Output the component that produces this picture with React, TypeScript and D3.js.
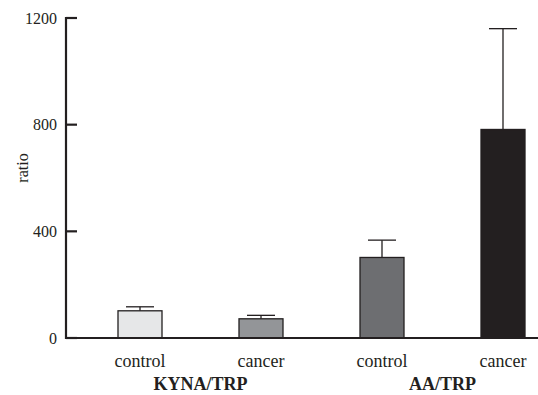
import * as React from "react";
import * as d3 from "d3";

const categories: string[] = ["KYNA control", "KYNA cancer", "AA control", "AA cancer"];
const barLabels: string[] = ["control", "cancer", "control", "cancer"];
const means: number[] = [102, 72, 302, 782];
const errors: number[] = [15, 13, 65, 378];
const barColors: string[] = ["#e6e7e8", "#939598", "#6d6e71", "#231f20"];
const groups: string[] = ["KYNA/TRP", "AA/TRP"];
const yTicks: number[] = [0, 400, 800, 1200];

const W = 538;
const H = 395;
const serif = '"Liberation Serif", "DejaVu Serif", "Times New Roman", serif';

export default function App(): JSX.Element {
  const axisX = 66;
  const y = d3.scaleLinear().domain([0, 1200]).range([338, 18]);
  const x = d3.scalePoint<string>().domain(categories).range([140, 503]);
  const barW = 44;
  const capW = 28;
  const ink = "#231f20";

  return (
    <svg width={W} height={H} style={{ position: "absolute", left: 0, top: 0, background: "#fff" }}>
      {/* bars with error bars */}
      {categories.map((c, i) => {
        const cx = x(c) as number;
        const top = y(means[i] + errors[i]);
        return (
          <g key={c}>
            <line x1={cx} x2={cx} y1={y(means[i])} y2={top} stroke={ink} strokeWidth={1.3} />
            <line x1={cx - capW / 2} x2={cx + capW / 2} y1={top} y2={top} stroke={ink} strokeWidth={1.3} />
            <rect x={cx - barW / 2} y={y(means[i])} width={barW} height={y(0) - y(means[i])}
              fill={barColors[i]} stroke={ink} strokeWidth={1.3} />
            <text x={cx} y={367} textAnchor="middle" style={{ fontFamily: serif, fontSize: "18px" }} fill={ink}>
              {barLabels[i]}
            </text>
          </g>
        );
      })}

      {/* axes */}
      <line x1={axisX} x2={axisX} y1={y(1200) - 1} y2={y(0) + 1} stroke={ink} strokeWidth={2.2} />
      <line x1={axisX - 1} x2={W} y1={y(0)} y2={y(0)} stroke={ink} strokeWidth={2.2} />
      {yTicks.map((t) => (
        <g key={t}>
          <line x1={axisX} x2={axisX + 11} y1={y(t)} y2={y(t)} stroke={ink} strokeWidth={2.2} />
          <text x={57} y={y(t) + 5.5} textAnchor="end" style={{ fontFamily: serif, fontSize: "16px" }} fill={ink}>
            {t}
          </text>
        </g>
      ))}
      <text transform="translate(28, 168) rotate(-90)" textAnchor="middle"
        style={{ fontFamily: serif, fontSize: "16px" }} fill={ink}>
        ratio
      </text>

      {/* group labels */}
      {groups.map((g, gi) => {
        const cx = ((x(categories[gi * 2]) as number) + (x(categories[gi * 2 + 1]) as number)) / 2;
        return (
          <text key={g} x={cx} y={390} textAnchor="middle"
            style={{ fontFamily: serif, fontSize: "18px", fontWeight: "bold" }} fill={ink}>
            {g}
          </text>
        );
      })}
    </svg>
  );
}
